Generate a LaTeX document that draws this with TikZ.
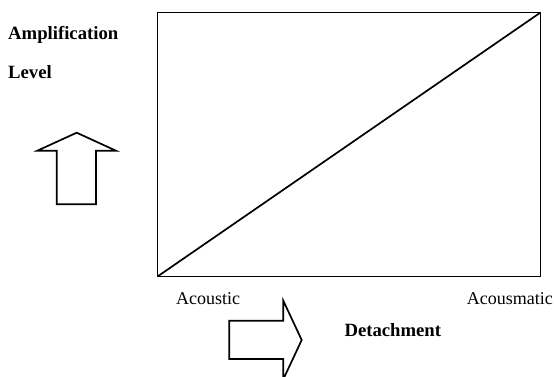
\documentclass[tikz,border=0pt]{standalone}
\usepackage{fontspec}
\setmainfont{Liberation Serif}
\usepackage{tikz}
\usetikzlibrary{calc}

\tikzset{
  lbl/.style={inner sep=0pt, font=\fontsize{18}{20}\selectfont},
  boldlbl/.style={lbl, font=\fontsize{18.7}{20}\selectfont\bfseries},
  outline/.style={line width=1.7pt, line join=miter}
}

\begin{document}
\begin{tikzpicture}[x=1pt, y=-1pt]
            \clip (0,0) rectangle (554,376);
            % frame and diagonal
            \coordinate (sw) at (157.5,276.5);
            \coordinate (ne) at (540.5,12.5);
            \draw[outline] (sw) rectangle (ne);
            \draw[outline] (sw) -- (ne);
            % vertical axis label and arrow
            \node[boldlbl, anchor=base west] (amp) at (8,39.3) {Amplification};
            \node[boldlbl, anchor=base west] (lvl) at (8,78.3) {Level};
            \draw[outline] (56.7,204.3) -- (56.7,150.7) -- (37.3,150.7) -- (76.7,132.7)
                -- (116,150.7) -- (96,150.7) -- (96,204.3) -- cycle;
            % horizontal axis labels and arrow
            \node[lbl, anchor=base west] (acoustic) at (176,304.3) {Acoustic};
            \node[lbl, anchor=base east] (acousmatic) at (553,304.8) {Acousmatic};
            \node[boldlbl, anchor=base west] (detach) at (344.3,336) {Detachment};
            \draw[outline] (229.3,320.7) -- (283.3,320.7) -- (283.3,300.7) -- (301.7,340)
                -- (283.3,379.3) -- (283.3,359) -- (229.3,359) -- cycle;
\end{tikzpicture}
\end{document}
